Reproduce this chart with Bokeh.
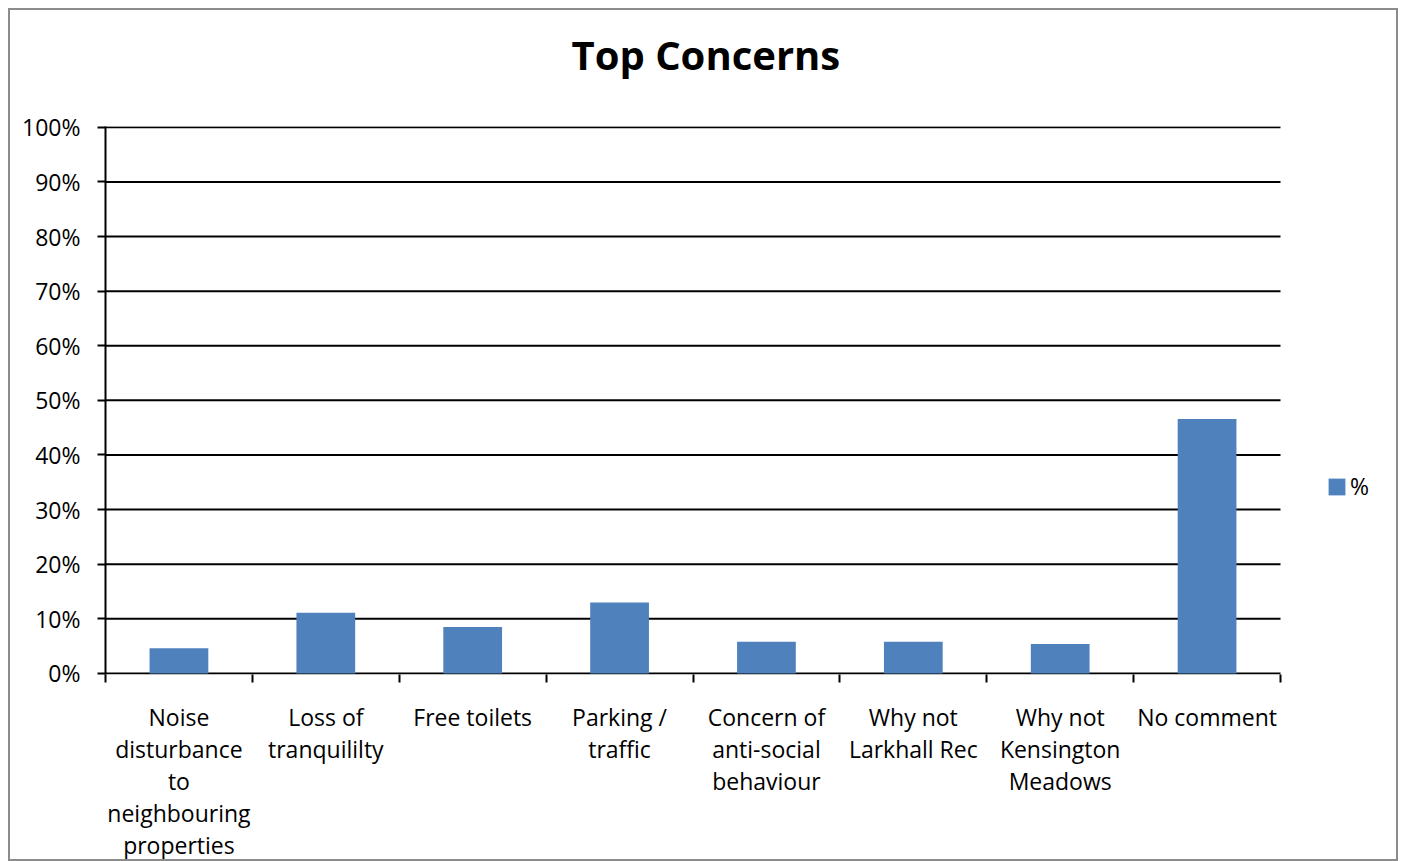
from bokeh.plotting import figure
from bokeh.models import Range1d, FixedTicker, NumeralTickFormatter, Legend, LegendItem, ColumnDataSource, Title
from bokeh.embed import file_html
from bokeh.resources import INLINE

categories = [
    "Noise\ndisturbance\nto\nneighbouring\nproperties",
    "Loss of\ntranquililty",
    "Free toilets",
    "Parking /\ntraffic",
    "Concern of\nanti-social\nbehaviour",
    "Why not\nLarkhall Rec",
    "Why not\nKensington\nMeadows",
    "No comment",
]
values = [0.046, 0.111, 0.085, 0.130, 0.058, 0.058, 0.054, 0.466]
y_ticks = [i / 10 for i in range(11)]

FONT = "Open Sans"
BAR = "#4F81BD"

n = len(categories)
centers = [i + 0.5 for i in range(n)]
src = ColumnDataSource(dict(x=centers, top=values))
grid_src = ColumnDataSource(dict(y=y_ticks, x0=[0] * len(y_ticks), x1=[n] * len(y_ticks)))

# frame spans past the category area so the legend (right) sits inside it
W, H = 1390, 853
LEFT, TOP, BOTTOM, RIGHT = 95, 116, 184, 2
frame_w = W - LEFT - RIGHT
cat_w = 1175
x_end = n * frame_w / cat_w

p = figure(width=W, height=H, output_backend="svg", toolbar_location=None, title=None,
           x_range=Range1d(0, x_end), y_range=Range1d(-0.002, 1.0015),
           min_border_left=LEFT, min_border_right=RIGHT, min_border_top=TOP, min_border_bottom=BOTTOM)
p.styles = {"border": "2px solid #8c8c8c", "box-sizing": "border-box",
            "margin-left": "8px", "margin-top": "8px"}

# thin spacer between title and plot area
p.add_layout(Title(text=" ", text_font_size="1px", standoff=24), "above")
p.add_layout(Title(text="Top Concerns", text_font=FONT, text_font_size="40px",
                   text_font_style="bold", text_color="black", align="left", offset=466,
                   vertical_align="top", standoff=32), "above")

p.segment(x0="x0", x1="x1", y0="y", y1="y", source=grid_src, line_color="black", line_width=2)
r = p.vbar(x="x", top="top", width=0.4, source=src, fill_color=BAR, line_color=None)

p.outline_line_color = None
p.xgrid.grid_line_color = None
p.ygrid.grid_line_color = None

ya = p.yaxis[0]
ya.ticker = FixedTicker(ticks=y_ticks)
ya.formatter = NumeralTickFormatter(format="0%")
ya.axis_line_color = "black"
ya.axis_line_width = 2
ya.major_tick_line_color = "black"
ya.major_tick_line_width = 2
ya.major_tick_out = 8
ya.major_tick_in = 0
ya.minor_tick_line_color = None
ya.major_label_text_font = FONT
ya.major_label_text_font_size = "23px"
ya.major_label_text_color = "black"
ya.major_label_standoff = 17

xa = p.xaxis[0]
xa.ticker = FixedTicker(ticks=centers, minor_ticks=list(range(n + 1)))
xa.major_label_overrides = {c: lab for c, lab in zip(centers, categories)}
xa.axis_line_color = None
xa.major_tick_line_color = None
xa.major_tick_out = 0
xa.major_tick_in = 0
xa.minor_tick_line_color = "black"
xa.minor_tick_line_width = 2
xa.minor_tick_out = 8
xa.minor_tick_in = 0
xa.major_label_text_font = FONT
xa.major_label_text_font_size = "23px"
xa.major_label_text_color = "black"
xa.major_label_text_line_height = 1.0
xa.major_label_standoff = 18
xa.major_label_orientation = "horizontal"

legend = Legend(items=[LegendItem(label="%", renderers=[r])], location=(1221, 172),
                glyph_width=21, glyph_height=21, label_standoff=3, padding=0, margin=0,
                border_line_color=None, background_fill_alpha=0,
                label_text_font=FONT, label_text_font_size="23px", label_text_color="black")
p.add_layout(legend, "center")

open("out.html", "w").write(file_html(p, INLINE))
